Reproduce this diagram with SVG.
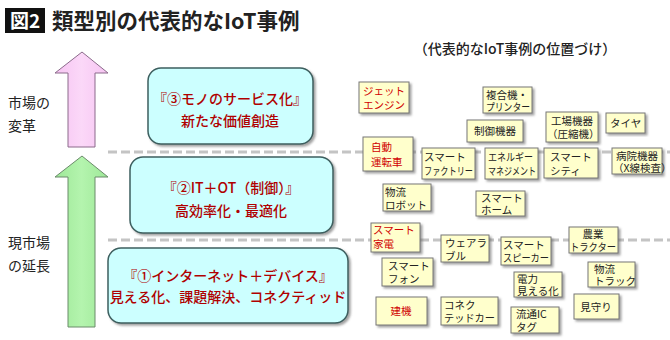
<svg xmlns="http://www.w3.org/2000/svg" width="670" height="340" viewBox="0 0 670 340">
<defs>
<filter id="sh" x="-20%" y="-20%" width="140%" height="140%">
<feDropShadow dx="2" dy="2" stdDeviation="1" flood-color="#666" flood-opacity="0.6"/>
</filter>
<linearGradient id="pk" x1="0" x2="1" y1="0" y2="0"><stop offset="0" stop-color="#f6c4f2"/><stop offset="0.5" stop-color="#fbd8f8"/><stop offset="1" stop-color="#f6c4f2"/></linearGradient>
<linearGradient id="gr" x1="0" x2="1" y1="0" y2="0"><stop offset="0" stop-color="#9ee898"/><stop offset="0.5" stop-color="#b4f4ae"/><stop offset="1" stop-color="#9ee898"/></linearGradient>
</defs>
<style>
text{font-family:"Noto Sans CJK JP","Noto Sans",sans-serif}
.side{font-size:14px;fill:#222}
.big{fill:#ccffff;stroke:#3d5f5f;stroke-width:1.5;filter:url(#sh)}
.bt{font-size:14px;fill:#b00000;text-anchor:middle;font-weight:500}
.note rect{fill:#ffffcc;stroke:#777;stroke-width:1;filter:url(#sh)}
.note text{font-size:10.5px;fill:#222}
.note.red text{fill:#d00000}
.dash{stroke:#c4c4c4;stroke-width:3;stroke-dasharray:9 4;fill:none}
</style>
<rect width="670" height="340" fill="#fff"/>
<g id="title">
<rect x="5" y="8" width="40" height="25" fill="#111"/>
<text x="25" y="28" font-size="19" fill="#fff" text-anchor="middle" font-weight="bold">図2</text>
<text x="52" y="29" font-size="21.5" fill="#222" font-weight="bold">類型別の代表的なIoT事例</text>
</g>
<text x="515" y="54" font-size="14" fill="#222" text-anchor="middle" font-weight="500">（代表的なIoT事例の位置づけ）</text>
<g id="connectors">
<line class="dash" x1="108" y1="152" x2="670" y2="152"/>
<line class="dash" x1="108" y1="240" x2="670" y2="240"/>
</g>
<g id="arrow-top">
<path d="M82 52 L108 73 L95 73 L95 147 L68 147 L68 73 L55 73 Z" fill="url(#pk)" stroke="#8b6b8b" stroke-width="1"/>
</g>
<g id="arrow-bottom">
<path d="M82 156 L108 177 L95 177 L95 327 L68 327 L68 177 L55 177 Z" fill="url(#gr)" stroke="#6b8b6b" stroke-width="1"/>
</g>
<g id="label-top">
<text class="side" x="8" y="108">市場の</text>
<text class="side" x="8" y="131">変革</text>
</g>
<g id="label-bottom">
<text class="side" x="8" y="248">現市場</text>
<text class="side" x="8" y="271">の延長</text>
</g>
<g id="box3">
<rect class="big" x="148" y="68" width="165" height="76" rx="13"/>
<text class="bt" x="230" y="104">『③モノのサービス化』</text>
<text class="bt" x="230" y="126">新たな価値創造</text>
</g>
<g id="box2">
<rect class="big" x="130" y="157" width="203" height="76" rx="13"/>
<text class="bt" x="231" y="193">『②IT＋OT（制御）』</text>
<text class="bt" x="231" y="216">高効率化・最適化</text>
</g>
<g id="box1">
<rect class="big" x="108" y="248" width="240" height="75" rx="13"/>
<text class="bt" x="228" y="281">『①インターネット＋デバイス』</text>
<text class="bt" x="228" y="302">見える化、課題解決、コネクティッド</text>
</g>
<g id="n-jet" class="note red"><rect x="359" y="82" width="50" height="31"/><text x="363" y="95">ジェット</text><text x="363" y="109">エンジン</text></g>
<g id="n-fukugo" class="note"><rect x="483" y="87" width="49" height="26"/><text x="486" y="99">複合機・</text><text x="486" y="111" textLength="44" lengthAdjust="spacingAndGlyphs">プリンター</text></g>
<g id="n-seigyo" class="note"><rect x="467" y="120" width="56" height="22"/><text x="474" y="135">制御機器</text></g>
<g id="n-kojo" class="note"><rect x="546" y="112" width="52" height="30"/><text x="551" y="125">工場機器</text><text x="547" y="138" font-size="10">（圧縮機）</text></g>
<g id="n-tire" class="note"><rect x="606" y="113" width="39" height="20"/><text x="610" y="127">タイヤ</text></g>
<g id="n-jido" class="note red"><rect x="363" y="137" width="50" height="34"/><text x="371" y="151" font-size="12">自動</text><text x="371" y="166" font-size="12">運転車</text></g>
<g id="n-factory" class="note"><rect x="422" y="148" width="53" height="31"/><text x="424" y="161">スマート</text><text x="424" y="175" textLength="49" lengthAdjust="spacingAndGlyphs">ファクトリー</text></g>
<g id="n-energy" class="note"><rect x="485" y="148" width="53" height="31"/><text x="488" y="161" textLength="45" lengthAdjust="spacingAndGlyphs">エネルギー</text><text x="488" y="175" textLength="48" lengthAdjust="spacingAndGlyphs">マネジメント</text></g>
<g id="n-city" class="note"><rect x="544" y="148" width="54" height="30"/><text x="550" y="161">スマート</text><text x="550" y="175">シティ</text></g>
<g id="n-byoin" class="note"><rect x="612" y="148" width="50" height="26"/><text x="637" y="160" text-anchor="middle">病院機器</text><text x="613" y="172" font-size="9.2">（X線検査）</text></g>
<g id="n-robot" class="note"><rect x="383" y="184" width="48" height="27"/><text x="385" y="196">物流</text><text x="385" y="209">ロボット</text></g>
<g id="n-home" class="note"><rect x="476" y="191" width="49" height="25"/><text x="481" y="202">スマート</text><text x="481" y="214">ホーム</text></g>
<g id="n-kaden" class="note red"><rect x="371" y="223" width="49" height="29"/><text x="373" y="234">スマート</text><text x="373" y="248">家電</text></g>
<g id="n-wear" class="note"><rect x="441" y="235" width="48" height="27"/><text x="445" y="247">ウェアラ</text><text x="445" y="260">ブル</text></g>
<g id="n-speaker" class="note"><rect x="501" y="237" width="50" height="28"/><text x="503" y="249">スマート</text><text x="503" y="262" textLength="46" lengthAdjust="spacingAndGlyphs">スピーカー</text></g>
<g id="n-nogyo" class="note"><rect x="569" y="227" width="49" height="26"/><text x="593" y="238" text-anchor="middle">農業</text><text x="593" y="251" text-anchor="middle" textLength="46" lengthAdjust="spacingAndGlyphs">トラクター</text></g>
<g id="n-phone" class="note"><rect x="382" y="258" width="51" height="28"/><text x="388" y="270">スマート</text><text x="388" y="283">フォン</text></g>
<g id="n-truck" class="note"><rect x="588" y="262" width="47" height="25"/><text x="594" y="273">物流</text><text x="594" y="285">トラック</text></g>
<g id="n-denryoku" class="note"><rect x="514" y="272" width="48" height="25"/><text x="517" y="283">電力</text><text x="517" y="295">見える化</text></g>
<g id="n-kenki" class="note red"><rect x="376" y="297" width="51" height="28"/><text x="401" y="315" text-anchor="middle" font-size="11.5">建機</text></g>
<g id="n-connected" class="note"><rect x="441" y="297" width="57" height="28"/><text x="444" y="309">コネク</text><text x="444" y="322" textLength="51" lengthAdjust="spacingAndGlyphs">テッドカー</text></g>
<g id="n-ictag" class="note"><rect x="511" y="307" width="48" height="26"/><text x="516" y="318">流通IC</text><text x="516" y="331">タグ</text></g>
<g id="n-mimamori" class="note"><rect x="574" y="294" width="45" height="25"/><text x="596" y="311" text-anchor="middle" font-size="12">見守り</text></g>
</svg>
